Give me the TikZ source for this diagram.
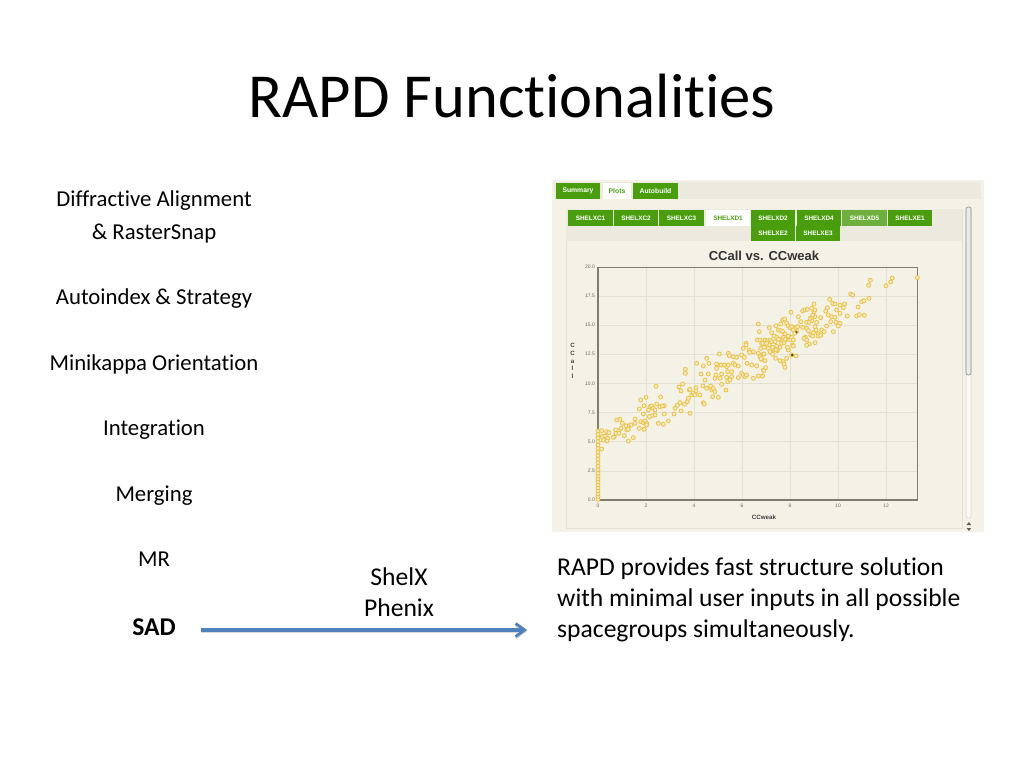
\documentclass[tikz,border=0pt]{standalone}
\usepackage{fontspec}
\setmainfont[Ligatures=NoCommon,Contextuals=NoAlternate]{Carlito}
\newfontfamily\uifont{Liberation Sans}
\usetikzlibrary{arrows.meta}
\definecolor{tabgreen}{HTML}{4A9E0E}
\definecolor{tablight}{HTML}{6FAF3E}
\definecolor{panelbg}{HTML}{F4F2E7}
\definecolor{bandbg}{HTML}{ECEADE}
\definecolor{gridc}{HTML}{E2E1D4}
\definecolor{axisc}{HTML}{7E7D70}
\definecolor{dotc}{HTML}{EBC445}
\definecolor{arrowc}{HTML}{4F81BD}
\tikzset{
  x=1pt,y=-1pt,
  title/.style={inner sep=0pt,font=\fontsize{62.6}{62.6}\selectfont,anchor=base},
  body/.style={inner sep=0pt,font=\fontsize{22.75}{22.75}\selectfont,anchor=base},
  para/.style={inner sep=0pt,font=\fontsize{25.6}{25.6}\selectfont,anchor=base west},
  tab/.style={fill=tabgreen,text=white,inner sep=0pt,font=\uifont\bfseries\fontsize{6.4}{6.4}\selectfont},
  toptab/.style={tab,font=\uifont\bfseries\fontsize{6.8}{6.8}\selectfont},
  tabon/.style={tab,fill=white,text=tabgreen},
  toptabon/.style={toptab,fill=white,text=tabgreen},
  tablt/.style={tab,fill=tablight},
  tick/.style={inner sep=0pt,text=black!60,font=\uifont\fontsize{5}{5}\selectfont},
  axname/.style={inner sep=0pt,text=black!75,font=\uifont\bfseries\fontsize{6.2}{6.2}\selectfont},
  dot/.style={draw=dotc,fill=panelbg!80!dotc,line width=0.8pt},
  link/.style={draw=arrowc,line width=3.2pt,-{Straight Barb[length=9pt,width=13pt,line width=2.8pt]}},
  linkshadow/.style={draw=black!15,line width=3.2pt,-{Straight Barb[length=9pt,width=13pt,line width=2.8pt]}}
}
\begin{document}
\begin{tikzpicture}
\useasboundingbox (0,0) rectangle (1024,768);
\fill[white] (0,0) rectangle (1024,768);
\node[title] (ttl) at (512,117) {RAPD Functionalities};
\node[body] (t1) at (154,206) {Diffractive Alignment};
\node[body] (t2) at (154,239) {\& RasterSnap};
\node[body] (t3) at (154,304) {Autoindex \& Strategy};
\node[body] (t4) at (154,370) {Minikappa Orientation};
\node[body] (t5) at (154,435) {Integration};
\node[body] (t6) at (154,501) {Merging};
\node[body] (t7) at (154,566) {MR};
\node[body,font=\fontsize{25.6}{25.6}\selectfont\bfseries] (t8) at (154,635) {SAD};
\node[para,anchor=base] (s1) at (399,585) {ShelX};
\node[para,anchor=base] (s2) at (399,616) {Phenix};
\node[para] (p1) at (557,575) {RAPD provides fast structure solution};
\node[para] (p2) at (557,606) {with minimal user inputs in all possible};
\node[para] (p3) at (557,637) {spacegroups simultaneously.};
\coordinate (as) at (201,630);
\coordinate (ae) at (527,630);
\draw[linkshadow] ([yshift=-1.5pt]as) -- ([yshift=-1.5pt]ae);
\draw[link] (as) -- (ae);
% screenshot
\fill[panelbg] (552,180) rectangle (984,532);
\fill[bandbg] (554,182) rectangle (981,199);
\fill[bandbg] (566,209) rectangle (962,241);
\draw[gridc,line width=0.5pt] (566,241) -- (566,528) -- (962,528) -- (962,209);
\foreach \nm/\xa/\xb/\tx/\sty in {a/556/600/Summary/toptab,b/603/631/Plots/toptabon,c/633/678/Autobuild/toptab}{
  \node[\sty,minimum width=\xb pt-\xa pt,minimum height=16pt] (top\nm) at ({(\xa+\xb)/2},191) {\tx};}
\foreach \nm/\xa/\xb/\ya/\tx/\sty in {
  a/568/613/218/SHELXC1/tab,b/614/658/218/SHELXC2/tab,c/659/704/218/SHELXC3/tab,d/706/750/218/SHELXD1/tabon,
  e/751/795/218/SHELXD2/tab,f/797/841/218/SHELXD4/tab,g/842/887/218/SHELXD5/tablt,h/888/932/218/SHELXE1/tab,
  i/751/795/233.5/SHELXE2/tab,j/796/840/233.5/SHELXE3/tab}{
  \node[\sty,minimum width=\xb pt-\xa pt,minimum height=15.5pt] (sub\nm) at ({(\xa+\xb)/2},\ya) {\tx};}
\node[inner sep=0pt,text=black!80,font=\uifont\bfseries\fontsize{13}{13}\selectfont] (ctitle) at (764,255.5) {CCall vs. CCweak};
% grid
\foreach \x in {646.7,694.5,742,790,838.7,886} \draw[gridc,line width=0.6pt] (\x,267) -- (\x,500);
\foreach \y in {296,325,354,383.5,412.5,441.5,471} \draw[gridc,line width=0.6pt] (598,\y) -- (917,\y);
\draw[axisc,line width=0.9pt] (598,267) rectangle (917,500);
\draw[axisc,line width=1.4pt] (598,267) -- (598,500) -- (917,500);
% tick labels
\foreach \t/\y in {20.0/266.7,17.5/296,15.0/325,12.5/354,10.0/383.5,7.5/412.5,5.0/441.5,2.5/471,0.0/500}
  \node[tick,anchor=east] (yt\t) at (595,\y) {\t};
\foreach \t/\x in {0/598,2/646,4/694,6/742,8/790,10/838,12/886}
  \node[tick] (xt\t) at (\x,506) {\t};
\node[axname,align=center,font=\uifont\bfseries\fontsize{6.2}{7.6}\selectfont] (ylab) at (572.5,361) {C\\C\\a\\l\\l};
\node[axname] (xlab) at (764,517.5) {CCweak};
% scrollbar
\fill[white!70!bandbg,draw=black!18,line width=0.5pt,rounded corners=2pt] (966,207) rectangle (971,518);
\fill[black!8,draw=black!45,line width=0.6pt,rounded corners=2pt] (966,207) rectangle (971,375);
\fill[black!65] (966.5,525) -- (969,522) -- (971,525) -- cycle;
\fill[black!65] (966.5,528) -- (969,531) -- (971,528) -- cycle;
% points along the left axis
\foreach \yy in {0.5,3,...,20.5,23,26,...,50,53,56,59}
  \draw[dot] (598,{500-\yy*1.17}) circle (2);
% points, left crop
\begin{scope}[shift={(545,260)},x=0.3333pt,y=-0.3333pt]
\foreach \p/\q in {170/512,185/515,192/518,172/530,180/528,188/535,175/540,186/543,170/567,208/530,215/480,225/478,232/490,212/510,222/512,228/505,238/527,213/520,205/532,222/520,250/543,265/533,243/497,253/497,258/495,245/510,250/508,270/477,270/490,283/505,287/485,295/488,300/483,305/490,297/508,287/420,303/412,283/447,297/437,295/462,310/450,315/440,320/438,325/445,330/450,335/432,347/411,345/440,358/437,352/438,333/379,358/462,330/465,320/468,313/470,305/495,340/490,355/493,370/483,387/462,390/445,397/436,405/428,408/453,418/433,402/381,408/393,413/372,421/328,421/340,427/425,430/415,433/390,435/388,440/405,445/400,450/405,453/383,453/393,435/460,465/405,475/428,478/432,455/310,468/342,475/318,485/295,492/310,480/360,474/378,490/342,485/385,497/378,500/390,505/385,510/395,503/410,520/412,510/355,513/345,515/325,515/312,523/282,528/315,530/342,525/355,530/373,543/390,538/315,545/320,550/315,550/280,553/287,548/335,560/335,545/352,548/365,560/350,555/360,565/310,565/290,575/292,570/315,580/318,580/353,590/340,595/345,600/350,605/345,606/310,590/285,598/292,595/265,603/250,603/255,612/270,614/277,620/315,625/355,635/318,640/192,643/215,637/240,645/240,650/250,655/255,640/280,645/290,650/298,625/275,655/282,652/348,655/330,660/240}
  \draw[dot] (\p,\q) circle (6);
\end{scope}
% points, right crop
\begin{scope}[shift={(760,260)},x=0.3333pt,y=-0.3333pt]
\foreach \p/\q in {-5/348,8/348,11/332,17/323,15/302,3/296,12/282,2/265,8/250,15/240,22/243,28/255,30/240,38/283,47/295,42/270,52/272,60/302,70/305,75/322,72/312,80/295,85/270,82/262,60/262,65/250,72/248,78/240,88/232,92/240,98/255,100/258,95/285,108/288,28/203,48/197,55/210,62/212,68/215,75/222,62/192,68/180,74/177,80/190,84/197,90/203,95/200,100/210,108/202,113/200,110/215,104/220,93/157,115/170,122/185,35/218,42/228,50/232,20/250,12/262,35/245,45/245,50/258,60/238,70/232,75/238,85/228,95/232,100/240,55/238,38/262,48/270,25/265,30/275,128/153,135/150,142/148,140/187,148/187,155/182,150/175,158/172,165/170,158/165,162/155,155/145,162/132,165/150,170/187,182/173,128/202,140/205,145/212,152/225,160/218,168/210,175/222,185/210,192/215,165/200,136/232,132/235,140/240,148/252,140/256,165/248,175/228,182/226,158/228,197/153,202/143,205/165,215/170,225/172,212/185,228/187,240/190,235/198,200/198,220/215,209/118,218/130,225/132,240/135,254/132,250/143,230/150,240/160,262/168,272/102,278/105,294/141,305/125,312/122,327/115,290/168,298/164,313/166,326/76,331/61,378/77,392/66,397/54,472/53}
  \draw[dot] (\p,\q) circle (6);
\end{scope}
\fill[black!60!dotc] (792,355) circle (1.5);
\fill[black!50!dotc] (796.5,332) circle (1.3);
\end{tikzpicture}
\end{document}
